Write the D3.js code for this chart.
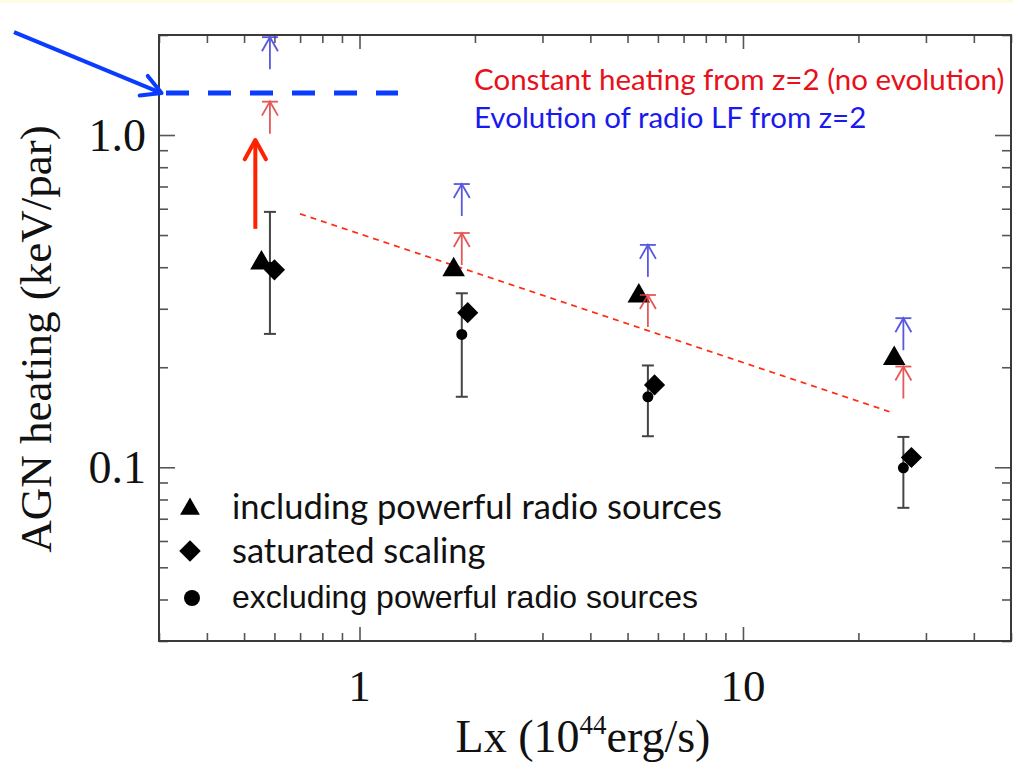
<!DOCTYPE html>
<html>
<head>
<meta charset="utf-8">
<script src="https://cdn.jsdelivr.net/npm/d3@7"></script>
<style>
  html, body { margin: 0; padding: 0; background: #ffffff; }
  svg { display: block; }
</style>
</head>
<body>
<svg id="chart" width="1013" height="762"></svg>
<script>
// X-ray luminosity (10^44 erg/s) and AGN heating (keV/particle) per sample bin
const triX = [0.555, 1.76, 5.35, 24.8];      // including powerful radio sources
const triY = [0.415, 0.396, 0.330, 0.214];
const diaX = [0.600, 1.915, 5.88, 27.5];     // saturated scaling
const diaY = [0.393, 0.292, 0.177, 0.107];
const cirX = [0.584, 1.848, 5.65, 26.2];     // excluding powerful radio sources
const cirY = [0.400, 0.251, 0.163, 0.0996];
const errLo = [0.252, 0.163, 0.124, 0.0755];
const errHi = [0.587, 0.334, 0.2025, 0.1234];

// lower limits from z=2
const limX = [0.584, 1.848, 5.65, 26.2];
const noEvolY = [1.26, 0.507, 0.330, 0.201];   // constant heating
const radioLfY = [1.97, 0.712, 0.467, 0.281];  // evolving radio LF

// dashed trend and blue level line
const trendX = [0.70, 24.1];
const trendY = [0.579, 0.147];
const levelX = [0.30, 1.26];
const levelY = 1.337;

// annotation arrows (tail -> head)
const blueArrowX = [0.1256, 0.3046];
const blueArrowY = [2.04, 1.337];
const redArrowX = [0.535, 0.535];
const redArrowY = [0.522, 0.966];

const xMajor = [1, 10];
const xMajorLabels = ["1", "10"];
const xMinor = [0.3, 0.4, 0.5, 0.6, 0.7, 0.8, 0.9, 2, 3, 4, 5, 6, 7, 8, 9, 20, 30, 40, 50];
const yMajor = [0.1, 1];
const yMajorLabels = ["0.1", "1.0"];
const yMinor = [0.03, 0.04, 0.05, 0.06, 0.07, 0.08, 0.09, 0.2, 0.3, 0.4, 0.5, 0.6, 0.7, 0.8, 0.9, 2];

const legendLabels = ["including powerful radio sources", "saturated scaling", "excluding powerful radio sources"];
const noteLabels = ["Constant heating from z=2 (no evolution)", "Evolution of radio LF from z=2"];

const svg = d3.select("#chart");
const W = 1013, H = 762;
const m = { left: 159, top: 35, right: 2, bottom: 121 };
const pw = W - m.left - m.right, ph = H - m.top - m.bottom;

svg.append("rect").attr("x", 0).attr("y", 0).attr("width", W).attr("height", 3).attr("fill", "#fdfbe2");

const x = d3.scaleLog().domain([0.3, 50]).range([m.left, m.left + pw]);
const y = d3.scaleLog().domain([0.03, 2]).range([m.top + ph, m.top]);

const serif = "'Liberation Serif', 'Times New Roman', serif";
const tickCol = "#555";

// ticks on all four sides, pointing inward
function tickAxis(axis, tx, ty) {
  const g = svg.append("g").attr("transform", `translate(${tx},${ty})`).call(axis);
  g.select(".domain").remove();
  g.selectAll(".tick line").attr("stroke", tickCol).attr("stroke-width", 1.6);
  g.selectAll(".tick text").remove();
  return g;
}
tickAxis(d3.axisBottom(x).tickValues(xMajor).tickSize(-14), 0, m.top + ph);
tickAxis(d3.axisBottom(x).tickValues(xMinor).tickSize(-8), 0, m.top + ph);
tickAxis(d3.axisTop(x).tickValues(xMajor).tickSize(-14), 0, m.top);
tickAxis(d3.axisTop(x).tickValues(xMinor).tickSize(-8), 0, m.top);
tickAxis(d3.axisLeft(y).tickValues(yMajor).tickSize(-16), m.left, 0);
tickAxis(d3.axisLeft(y).tickValues(yMinor).tickSize(-9), m.left, 0);
tickAxis(d3.axisRight(y).tickValues(yMajor).tickSize(-16), m.left + pw, 0);
tickAxis(d3.axisRight(y).tickValues(yMinor).tickSize(-9), m.left + pw, 0);

// frame
svg.append("rect").attr("x", m.left).attr("y", m.top).attr("width", pw).attr("height", ph)
  .attr("fill", "none").attr("stroke", "#3a3a3a").attr("stroke-width", 2);

// tick labels
svg.selectAll(".xlab").data(xMajor).join("text")
  .attr("x", d => x(d)).attr("y", 701)
  .attr("text-anchor", "middle").attr("font-family", serif).attr("font-size", 45).attr("fill", "#111")
  .text((d, i) => xMajorLabels[i]);
svg.selectAll(".ylab").data(yMajor).join("text")
  .attr("x", 146).attr("y", d => y(d) + 16)
  .attr("text-anchor", "end").attr("font-family", serif).attr("font-size", 46).attr("fill", "#111")
  .text((d, i) => yMajorLabels[i]);

// axis titles
const xt = svg.append("text").attr("x", 583).attr("y", 752)
  .attr("text-anchor", "middle").attr("font-family", serif).attr("font-size", 46).attr("fill", "#111");
xt.append("tspan").text("Lx (10");
xt.append("tspan").attr("font-size", 27).attr("dy", -18).text("44");
xt.append("tspan").attr("dy", 18).text("erg/s)");
svg.append("text").attr("transform", "translate(51,339) rotate(-90)")
  .attr("text-anchor", "middle").attr("font-family", serif).attr("font-size", 45).attr("fill", "#111")
  .text("AGN heating (keV/par)");

// red dashed trend
svg.append("line")
  .attr("x1", x(trendX[0])).attr("y1", y(trendY[0])).attr("x2", x(trendX[1])).attr("y2", y(trendY[1]))
  .attr("stroke", "#ff2a10").attr("stroke-width", 1.6).attr("stroke-dasharray", "6,5");

// blue dashed level
svg.append("line")
  .attr("x1", x(levelX[0]) + 7).attr("y1", y(levelY)).attr("x2", x(levelX[1])).attr("y2", y(levelY))
  .attr("stroke", "#0a3cff").attr("stroke-width", 5).attr("stroke-dasharray", "23,19");

// annotation arrows with open heads
function bigArrow(xs, ys, color) {
  const x0 = x(xs[0]), y0 = y(ys[0]), x1 = x(xs[1]), y1 = y(ys[1]);
  const a = Math.atan2(y1 - y0, x1 - x0), L = 22, s = 0.5;
  const g = svg.append("g").attr("stroke", color).attr("stroke-width", 4).attr("fill", "none")
    .attr("stroke-linecap", "round").attr("stroke-linejoin", "round");
  g.append("line").attr("x1", x0).attr("y1", y0).attr("x2", x1 - 2 * Math.cos(a)).attr("y2", y1 - 2 * Math.sin(a))
    .attr("stroke-linecap", "butt");
  g.append("path").attr("d",
    `M${x1 - L * Math.cos(a - s)},${y1 - L * Math.sin(a - s)}L${x1},${y1}L${x1 - L * Math.cos(a + s)},${y1 - L * Math.sin(a + s)}`);
}
bigArrow(blueArrowX, blueArrowY, "#0a3cff");
bigArrow(redArrowX, redArrowY, "#ff2200");

// error bars
const eb = svg.append("g").attr("stroke", "#444").attr("stroke-width", 2);
cirX.forEach((d, i) => {
  eb.append("line").attr("x1", x(d)).attr("x2", x(d)).attr("y1", y(errLo[i])).attr("y2", y(errHi[i]));
  [errLo[i], errHi[i]].forEach(v => eb.append("line")
    .attr("x1", x(d) - 6).attr("x2", x(d) + 6).attr("y1", y(v)).attr("y2", y(v)));
});

// markers
const tri = d3.symbol().type(d3.symbolTriangle).size(220);
const dia = d3.symbol().type(d3.symbolSquare).size(225);
svg.selectAll(".tri").data(triX).join("path")
  .attr("d", tri).attr("fill", "#000")
  .attr("transform", (d, i) => `translate(${x(d)},${y(triY[i]) + 1})`);
svg.selectAll(".cir").data(cirX).join("circle")
  .attr("cx", d => x(d)).attr("cy", (d, i) => y(cirY[i])).attr("r", 5.5).attr("fill", "#000");
svg.selectAll(".dia").data(diaX).join("path")
  .attr("d", dia).attr("fill", "#000")
  .attr("transform", (d, i) => `translate(${x(d)},${y(diaY[i])}) rotate(45)`);

// lower-limit arrows
function limitArrows(vals, color) {
  const g = svg.append("g").attr("stroke", color).attr("stroke-width", 1.8).attr("fill", "none").attr("opacity", 0.85);
  limX.forEach((d, i) => {
    const cx = x(d), cy = y(vals[i]);
    g.append("line").attr("x1", cx - 8).attr("x2", cx + 8).attr("y1", cy).attr("y2", cy);
    g.append("line").attr("x1", cx).attr("x2", cx).attr("y1", cy).attr("y2", cy + 32);
    g.append("path").attr("d", `M${cx - 8},${cy + 14}L${cx},${cy}L${cx + 8},${cy + 14}`);
  });
}
limitArrows(noEvolY, "#e23a3a");
limitArrows(radioLfY, "#3b3bdc");

// notes
const sans = "Lato, 'Open Sans', sans-serif";
svg.append("text").attr("x", 474).attr("y", 90).attr("font-family", sans).attr("font-size", 29.5)
  .attr("fill", "#e8101a").text(noteLabels[0]);
svg.append("text").attr("x", 474).attr("y", 128).attr("font-family", sans).attr("font-size", 29.5)
  .attr("fill", "#1a1aee").text(noteLabels[1]);

// legend
const lg = svg.append("g");
lg.append("path").attr("d", d3.symbol().type(d3.symbolTriangle).size(170)).attr("fill", "#000")
  .attr("transform", "translate(190,509)");
lg.append("path").attr("d", d3.symbol().type(d3.symbolSquare).size(230)).attr("fill", "#000")
  .attr("transform", "translate(190,551) rotate(45)");
lg.append("circle").attr("cx", 192).attr("cy", 598).attr("r", 8).attr("fill", "#000");
lg.append("text").attr("x", 232).attr("y", 519).attr("font-family", sans).attr("font-size", 34.5).attr("fill", "#111").text(legendLabels[0]);
lg.append("text").attr("x", 232).attr("y", 563).attr("font-family", sans).attr("font-size", 34.5).attr("fill", "#111").text(legendLabels[1]);
lg.append("text").attr("x", 232).attr("y", 608).attr("font-family", "'Liberation Sans', Arial, sans-serif").attr("font-size", 32).attr("fill", "#111").text(legendLabels[2]);
</script>
</body>
</html>
